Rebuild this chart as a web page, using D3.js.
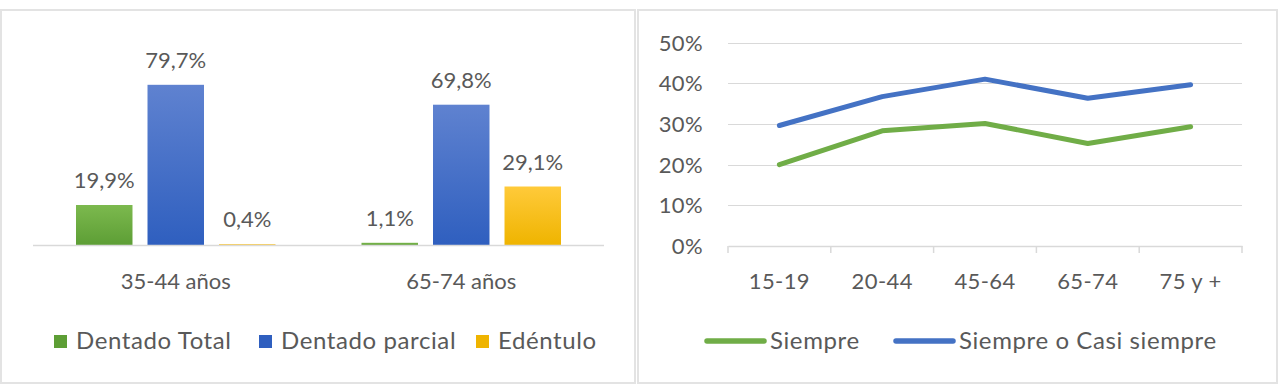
<!DOCTYPE html>
<html>
<head>
<meta charset="utf-8">
<script src="https://cdn.jsdelivr.net/npm/d3@7"></script>
<style>
  body { margin: 0; background: #fff; }
  text { font-family: Lato, "Liberation Sans", sans-serif; fill: #595959; }
</style>
</head>
<body>
<script>
// left chart data
var groups = ["35-44 años", "65-74 años"];
var barSeries = ["Dentado Total", "Dentado parcial", "Edéntulo"];
var barValues = [
  [19.9, 79.7, 0.4],
  [1.1, 69.8, 29.1]
];
var barColors = [["#7cb94e", "#5d9e35"], ["#5f82d0", "#2f5fbf"], ["#ffca3a", "#efb400"]];

// right chart data
var ages = ["15-19", "20-44", "45-64", "65-74", "75 y +"];
var siempre = [20.0, 28.3, 30.1, 25.2, 29.3];
var casiSiempre = [29.6, 36.7, 41.0, 36.3, 39.6];
var lineNames = ["Siempre", "Siempre o Casi siempre"];
var lineColors = ["#70ad47", "#4472c4"];
var yTicks = [0, 10, 20, 30, 40, 50];

var width = 1279;
var height = 390;
var fs = 22;
var legFs = 24;

var svg = d3.select("body").append("svg").attr("width", width).attr("height", height);

var defs = svg.append("defs");
barColors.forEach(function(c, i) {
  var g = defs.append("linearGradient").attr("id", "grad" + i)
    .attr("x1", 0).attr("y1", 0).attr("x2", 0).attr("y2", 1);
  g.append("stop").attr("offset", "0%").attr("stop-color", c[0]);
  g.append("stop").attr("offset", "100%").attr("stop-color", c[1]);
});

// panel borders
svg.append("rect").attr("x", 1).attr("y", 10).attr("width", 634).attr("height", 373)
  .attr("fill", "none").attr("stroke", "#e3e3e3").attr("stroke-width", 2);
svg.append("rect").attr("x", 638).attr("y", 10).attr("width", 639).attr("height", 373)
  .attr("fill", "none").attr("stroke", "#e3e3e3").attr("stroke-width", 2);

// ---- left: grouped bars ----
var x0 = d3.scaleBand().domain(groups).range([33, 604]).paddingOuter(0).paddingInner(0);
var x1 = d3.scaleBand().domain(barSeries).range([43, x0.bandwidth() - 43]).paddingInner(0.21);
var yBar = d3.scaleLinear().domain([0, 100]).range([245, 44]);

var left = svg.append("g");
var grp = left.selectAll("g.grp").data(barValues).enter().append("g")
  .attr("transform", function(d, i) { return "translate(" + x0(groups[i]) + ",0)"; });

grp.selectAll("rect").data(function(d) { return d; }).enter().append("rect")
  .attr("x", function(d, i) { return x1(barSeries[i]); })
  .attr("y", function(d) { return yBar(d); })
  .attr("width", x1.bandwidth())
  .attr("height", function(d) { return yBar(0) - yBar(d); })
  .attr("fill", function(d, i) { return "url(#grad" + i + ")"; });

grp.selectAll("text").data(function(d) { return d; }).enter().append("text")
  .attr("x", function(d, i) { return x1(barSeries[i]) + x1.bandwidth() / 2; })
  .attr("y", function(d) { return yBar(d) - 17; })
  .attr("text-anchor", "middle")
  .attr("font-size", fs)
  .text(function(d) { return d.toFixed(1).replace(".", ",") + "%"; });

left.append("line").attr("x1", 33).attr("x2", 604).attr("y1", 245.5).attr("y2", 245.5)
  .attr("stroke", "#d9d9d9").attr("stroke-width", 1.5);

left.selectAll("text.xl").data(groups).enter().append("text").attr("class", "xl")
  .attr("x", function(d) { return x0(d) + x0.bandwidth() / 2; })
  .attr("y", 289)
  .attr("text-anchor", "middle")
  .attr("font-size", fs)
  .text(function(d) { return d; });

var legX = [54, 259, 476];
var leg = left.selectAll("g.leg").data(barSeries).enter().append("g")
  .attr("transform", function(d, i) { return "translate(" + legX[i] + ",335)"; });
leg.append("rect").attr("width", 13).attr("height", 13)
  .attr("fill", function(d, i) { return barColors[i][1]; });
leg.append("text").attr("x", 22).attr("y", 14).attr("font-size", legFs)
  .attr("letter-spacing", 0.6)
  .text(function(d) { return d; });

// ---- right: lines ----
var xLine = d3.scaleBand().domain(ages).range([728, 1242]);
var yLine = d3.scaleLinear().domain([0, 50]).range([246, 42.5]);

var right = svg.append("g");
right.selectAll("line.grid").data(yTicks.slice(1)).enter().append("line")
  .attr("x1", 728).attr("x2", 1242)
  .attr("y1", function(d) { return Math.round(yLine(d)) + 0.5; })
  .attr("y2", function(d) { return Math.round(yLine(d)) + 0.5; })
  .attr("stroke", "#d9d9d9").attr("stroke-width", 1.2);

var xAxis = right.append("g").attr("transform", "translate(0,246)")
  .call(d3.axisBottom(xLine).tickSize(0).tickFormat(""));
xAxis.select(".domain").attr("stroke", "#d9d9d9").attr("stroke-width", 1.5);
xAxis.selectAll(".tick").remove();
var bounds = ages.map(function(a) { return xLine(a); }).concat([1242]);
right.selectAll("line.xt").data(bounds).enter().append("line")
  .attr("x1", function(d) { return d; }).attr("x2", function(d) { return d; })
  .attr("y1", 246).attr("y2", 253)
  .attr("stroke", "#d9d9d9").attr("stroke-width", 1.5);

right.selectAll("text.yl").data(yTicks).enter().append("text").attr("class", "yl")
  .attr("x", 703).attr("y", function(d) { return yLine(d) + 8; })
  .attr("text-anchor", "end").attr("font-size", fs)
  .attr("letter-spacing", 0.4)
  .text(function(d) { return d + "%"; });

right.selectAll("text.xl").data(ages).enter().append("text").attr("class", "xl")
  .attr("x", function(d) { return xLine(d) + xLine.bandwidth() / 2; })
  .attr("y", 289).attr("text-anchor", "middle").attr("font-size", fs)
  .attr("letter-spacing", 0.4)
  .text(function(d) { return d; });

var line = d3.line()
  .x(function(d, i) { return xLine(ages[i]) + xLine.bandwidth() / 2; })
  .y(function(d) { return yLine(d); });

[siempre, casiSiempre].forEach(function(s, k) {
  right.append("path").datum(s).attr("d", line)
    .attr("fill", "none").attr("stroke", lineColors[k]).attr("stroke-width", 5)
    .attr("stroke-linejoin", "round").attr("stroke-linecap", "round");
});

var lLegX = [707, 896];
var lleg = right.selectAll("g.lleg").data(lineNames).enter().append("g")
  .attr("transform", function(d, i) { return "translate(" + lLegX[i] + ",341)"; });
lleg.append("line").attr("x1", 0).attr("x2", 57).attr("y1", 0).attr("y2", 0)
  .attr("stroke", function(d, i) { return lineColors[i]; }).attr("stroke-width", 5.5)
  .attr("stroke-linecap", "round");
lleg.append("text").attr("x", 63).attr("y", 8).attr("font-size", legFs)
  .attr("letter-spacing", 0.6)
  .text(function(d) { return d; });
</script>
</body>
</html>
